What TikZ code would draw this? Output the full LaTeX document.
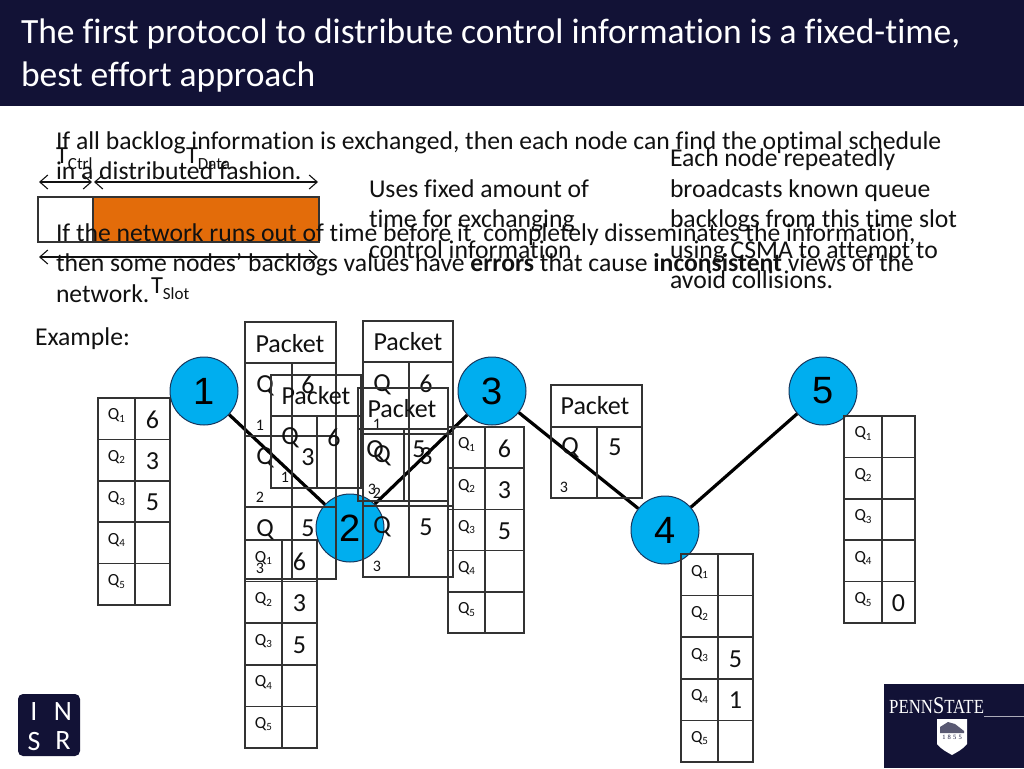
\documentclass[tikz,border=0pt]{standalone}
\usepackage{fontspec}
\setmainfont{Carlito}[Ligatures=CommonOff]
\newfontfamily\arialf{Liberation Sans}
\newfontfamily\timesf{Liberation Serif}
\usetikzlibrary{arrows.meta}
\definecolor{navy}{HTML}{121236}
\definecolor{cblue}{HTML}{00AEEF}
\definecolor{cedge}{HTML}{17375E}
\definecolor{ora}{HTML}{E36C0A}
\definecolor{gridc}{HTML}{333333}
\definecolor{ink}{HTML}{111111}
\newcommand{\fs}[1]{\fontsize{#1}{#1}\selectfont}
\newcommand{\qs}[1]{\fs{17}Q\raisebox{-2.5pt}{\fs{11}#1}}
\newcommand{\tsub}[1]{\fs{24.5}T\raisebox{-6.5pt}{\fs{17}#1}}
\tikzset{
  x=1pt,y=-1pt,
  txt/.style={anchor=base west,inner sep=0pt,outer sep=0pt,text=ink,font=\fs{25.65}},
  ttl/.style={anchor=base west,inner sep=0pt,outer sep=0pt,text=white,font=\fs{35.5}},
  tm/.style={anchor=center,inner sep=0pt,outer sep=0pt,text=ink},
  big/.style={tm,font=\fs{26}},
  val/.style={tm,font=\fs{26}},
  small/.style={tm,font=\fs{16}},
  grid/.style={draw=gridc,line width=1.5pt},
  hop/.style={draw=black,line width=3.2pt},
  router/.style={circle,draw=cedge,line width=1pt,fill=cblue,minimum size=68pt,inner sep=0pt,text=black,font=\arialf\fs{38}},
  span/.style={draw=ink,line width=1.1pt,{Straight Barb[length=8pt,width=14pt]}-{Straight Barb[length=8pt,width=14pt]}},
  logo/.style={tm,text=white,font=\fs{28}},
}
% name, xl, xm, xr, ytop, rowh, list of row/value
\newcommand{\qtab}[7]{%
  \draw[grid] (#2,#5) rectangle (#4,#5+5*#6);
  \draw[grid] (#3,#5) -- (#3,#5+5*#6);
  \foreach \r in {1,2,3,4}{\draw[grid] (#2,#5+\r*#6) -- (#4,#5+\r*#6);}
  \foreach \r/\v in {#7}{%
    \node[tm] (#1q\r) at ({(#2+#3)/2},#5+\r*#6-0.5*#6-3) {\qs{\r}};
    \node[val] (#1v\r) at ({(#3+#4)/2},#5+\r*#6-0.5*#6+1) {\v};
  }%
}
\begin{document}
\begin{tikzpicture}
\useasboundingbox (0,0) rectangle (1024,768);
\fill[white] (0,0) rectangle (1024,768);
\fill[navy] (0,0) rectangle (1024,106);
\node[ttl] (title1) at (21,44) {The first protocol to distribute control information is a fixed-time,};
\node[ttl] (title2) at (21,86) {best effort approach};

% slot bar
\fill[ora] (93,197) rectangle (319,242);
\draw[draw=gridc,line width=1.2pt] (38,197) rectangle (319,242);
\draw[draw=gridc,line width=1.2pt] (93,197) -- (93,242);
\coordinate (ca) at (39,182); \coordinate (cb) at (92,182);
\coordinate (da) at (94,182); \coordinate (db) at (318,182);
\coordinate (sa) at (39,257); \coordinate (sb) at (318,257);
\draw[span] (ca) -- (cb);
\draw[span] (da) -- (db);
\draw[span] (sa) -- (sb);

% body text
\node[txt] (b1) at (56,149) {If all backlog information is exchanged, then each node can find the optimal schedule};
\node[txt] (b2) at (56,179) {in a distributed fashion.};
\node[txt] (b3) at (56,241) {If the network runs out of time before it\hspace{6pt} completely disseminates the information,};
\node[txt] (b4) at (56,271) {then some nodes’ backlogs values have \textbf{errors} that cause \textbf{inconsistent} views of the};
\node[txt] (b5) at (56,302) {network.};
\node[txt] (u1) at (369,197) {Uses fixed amount of};
\node[txt] (u2) at (369,227) {time for exchanging};
\node[txt] (u3) at (369,258) {control information};
\node[txt] (e1) at (670,166) {Each node repeatedly};
\node[txt] (e2) at (670,197) {broadcasts known queue};
\node[txt] (e3) at (670,227) {backlogs from this time slot};
\node[txt] (e4) at (670,258) {using CSMA to attempt to};
\node[txt] (e5) at (670,288) {avoid collisions.};
\node[txt] (tc) at (56,163) {\tsub{Ctrl}};
\node[txt] (td) at (186,163) {\tsub{Data}};
\node[txt] (ts) at (151,293) {\tsub{Slot}};
\node[txt] (ex) at (35,345) {Example:};

% network
\node[router] (n1) at (204,391) {1};
\node[router] (n2) at (350,528) {2};
\node[router] (n3) at (492,391) {3};
\node[router] (n4) at (665,530) {4};
\node[router] (n5) at (823,391) {5};
\draw[hop] (n1) -- (n2);
\draw[hop] (n2) -- (n3);
\draw[hop] (n3) -- (n4);
\draw[hop] (n4) -- (n5);

% queue tables
\qtab{ta}{98}{135}{170}{398}{41.4}{1/6,2/3,3/5,4/{},5/{}}
\qtab{tb}{245}{282}{317}{540}{41.6}{1/6,2/3,3/5,4/{},5/{}}
\qtab{tc}{448}{485}{524}{427}{41.2}{1/6,2/3,3/5,4/{},5/{}}
\qtab{td}{681}{718}{753}{554}{41.6}{1/{},2/{},3/5,4/1,5/{}}
\qtab{te}{844}{882}{915}{416}{41.4}{1/{},2/{},3/{},4/{},5/0}

% packet P1
\draw[grid] (245,322) rectangle (336,579);
\draw[grid] (245,363) -- (336,363);
\draw[grid] (245,436) -- (336,436);
\draw[grid] (245,507) -- (336,507);
\draw[grid] (292,363) -- (292,579);
\node[big] (p1h) at (290,344) {Packet};
\node[big] (p1qa) at (265,386) {Q}; \node[big] (p1va) at (308,385) {6}; \node[small] (p1sa) at (260,425) {1};
\node[big] (p1qb) at (265,458) {Q}; \node[big] (p1vb) at (308,457) {3}; \node[small] (p1sb) at (260,497) {2};
\node[big] (p1qc) at (265,530) {Q}; \node[big] (p1vc) at (308,528) {5}; \node[small] (p1sc) at (260,568) {3};
% packet P2
\draw[grid] (363,321) rectangle (453,577);
\draw[grid] (363,362) -- (453,362);
\draw[grid] (363,434) -- (453,434);
\draw[grid] (363,506) -- (453,506);
\draw[grid] (409,362) -- (409,577);
\node[big] (p2h) at (408,342) {Packet};
\node[big] (p2qa) at (382,385) {Q}; \node[big] (p2va) at (426,384) {6}; \node[small] (p2sa) at (377,424) {1};
\node[big] (p2qb) at (382,456) {Q}; \node[big] (p2vb) at (426,456) {3}; \node[small] (p2sb) at (377,493) {2};
\node[big] (p2qc) at (382,527) {Q}; \node[big] (p2vc) at (426,527) {5}; \node[small] (p2sc) at (377,566) {3};
% packet P3
\draw[grid] (271,375) rectangle (361,488);
\draw[grid] (271,416) -- (361,416);
\draw[grid] (317,416) -- (317,488);
\node[big] (p3h) at (316,396) {Packet};
\node[big] (p3q) at (290,438) {Q}; \node[big] (p3v) at (334,438) {6}; \node[small] (p3s) at (285,477) {1};
% packet P4
\draw[grid] (358,388) rectangle (448,501);
\draw[grid] (358,429) -- (448,429);
\draw[grid] (404,429) -- (404,501);
\node[big] (p4h) at (402,409) {Packet};
\node[big] (p4q) at (375,451) {Q}; \node[big] (p4v) at (419,449) {5}; \node[small] (p4s) at (372,489) {3};
% packet P5
\draw[grid] (551,385) rectangle (642,498);
\draw[grid] (551,427) -- (642,427);
\draw[grid] (597,427) -- (597,498);
\node[big] (p5h) at (595,406) {Packet};
\node[big] (p5q) at (570,448) {Q}; \node[big] (p5v) at (615,447) {5}; \node[small] (p5s) at (564,487) {3};

% INSR logo
\fill[navy,rounded corners=5pt] (18,694) rectangle (80,756);
\node[logo] (li) at (34,712) {I};
\node[logo] (ln) at (63,712) {N};
\node[logo] (ls) at (34,741) {S};
\node[logo] (lr) at (63,741) {R};

% Penn State logo
\fill[navy] (884,684) rectangle (1024,768);
\node[anchor=base west,inner sep=0pt,text=white,font=\timesf\fs{20}] (ps) at (889,713) {\scalebox{0.84}[1]{PENN\fs{24}S\fs{20}TATE}};
\draw[white!65!navy,line width=1pt] (984,716) -- (1024,716);
\fill[white] (937,719) -- (967,719) -- (967,744) .. controls (962,750) and (957,752) .. (952,755) .. controls (947,752) and (942,750) .. (937,744) -- cycle;
\fill[navy!70!white] (940,727) -- (948,722) -- (955,724) -- (964,731) -- (964,733) -- (940,733) -- cycle;
\node[tm,text=navy,font=\timesf\fs{6.5}] (py) at (952,737) {1\,\,8\,\,5\,\,5};
\end{tikzpicture}
\end{document}
